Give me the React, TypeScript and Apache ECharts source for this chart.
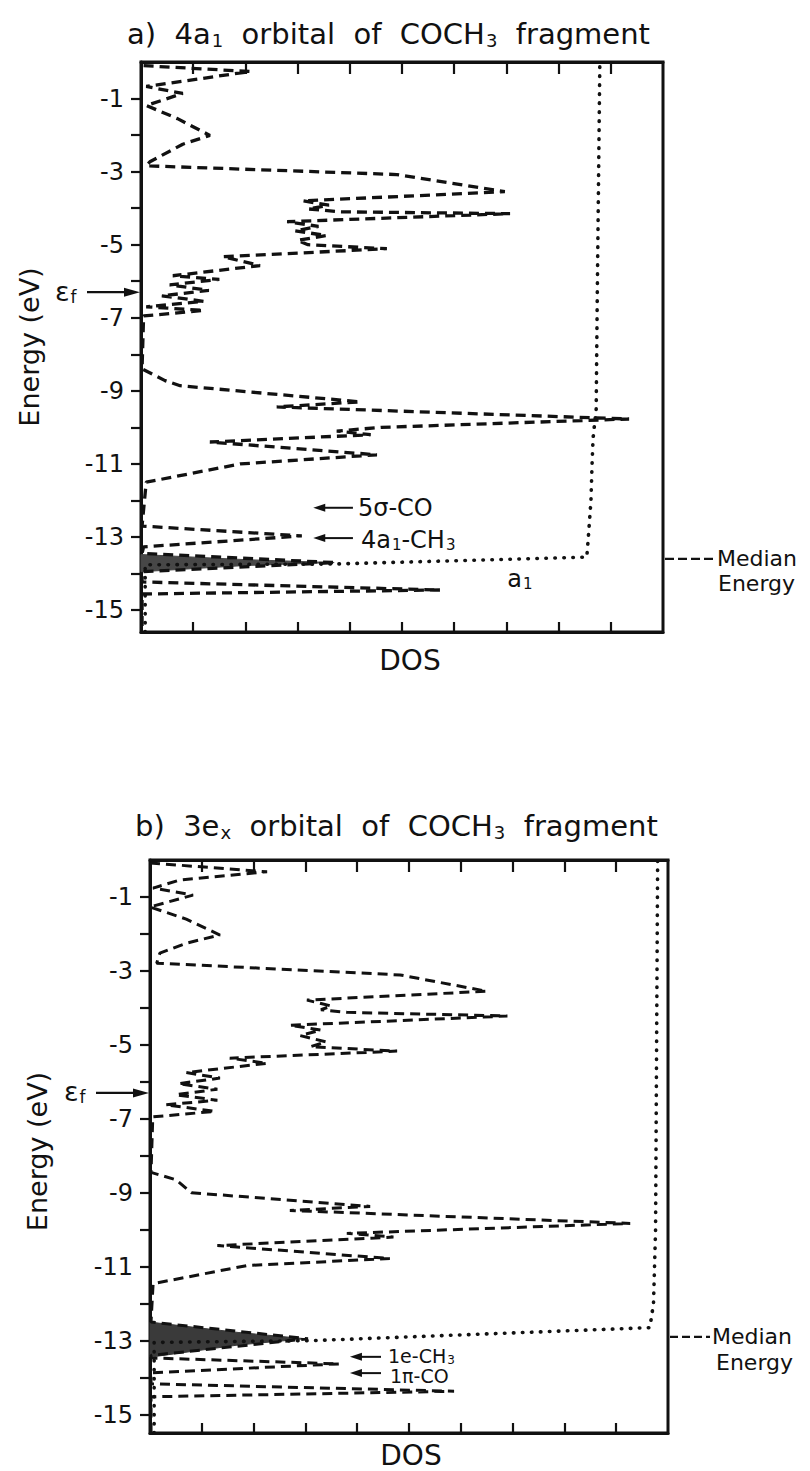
import React, { useEffect, useRef } from "react";
import * as echarts from "echarts";

// ---------- data ----------
const energyTicks = [-1, -2, -3, -4, -5, -6, -7, -8, -9, -10, -11, -12, -13, -14, -15];
const energyLabels = [-1, -3, -5, -7, -9, -11, -13, -15];
const dosTicks = [1, 2, 3, 4, 5, 6, 7, 8, 9];
const fermiEnergy = -6.3;
const aMedianEnergy = -13.6;
const bMedianEnergy = -12.9;

// panel a: 4a1 projected DOS (dashed)
const aDos = [0.05, 2.09, 0.1, 0.8, 0.1, 0.7, 1.32, 0.8, 0.17, 0.1, 4.9, 6.97, 3.1, 3.6, 3.2, 3.8, 7.07, 2.8, 3.4, 2.95, 3.55, 3.0, 3.2, 4.71, 1.57, 2.28, 0.61, 1.5, 0.55, 1.3, 0.4, 1.2, 0.1, 1.2, 0.05, 0.02, 0.46, 0.75, 4.2, 2.6, 9.35, 4.6, 3.75, 4.4, 1.32, 4.52, 1.9, 0.1, 0.02, 3.08, 0.05, 0.02, 3.7, 0.02, 0.02, 5.73, 0.02, 0.02];
const aEnergy = [-0.1, -0.26, -0.67, -0.86, -1.19, -1.55, -2.01, -2.25, -2.73, -2.84, -3.08, -3.55, -3.8, -3.92, -4.02, -4.1, -4.15, -4.37, -4.5, -4.62, -4.75, -4.88, -5.0, -5.11, -5.33, -5.57, -5.85, -5.95, -6.1, -6.25, -6.4, -6.55, -6.7, -6.8, -6.95, -8.4, -8.72, -8.86, -9.3, -9.44, -9.77, -10.0, -10.1, -10.2, -10.4, -10.75, -11.0, -11.5, -12.7, -12.97, -13.27, -13.45, -13.7, -13.95, -14.23, -14.45, -14.56, -15.6];
// panel a: integrated DOS (dotted)
const aIntDos = [0.08, 0.08, 3.7, 8.54, 8.57, 8.62, 8.64, 8.66, 8.72, 8.74, 8.79];
const aIntEnergy = [-15.6, -13.76, -13.74, -13.55, -13.0, -12.0, -11.05, -10.3, -9.5, -6.5, 0];
// panel a: dense (shaded) peak
const aWedgeDos = [0, 2.0, 3.7, 2.0, 0];
const aWedgeEnergy = [-13.48, -13.62, -13.7, -13.78, -13.95];

// panel b: 3ex projected DOS (dashed)
const bDos = [0.0, 2.26, 0.58, 0.06, 0.83, 0.0, 0.7, 1.35, 0.7, 0.19, 0.13, 4.83, 6.5, 3.03, 3.5, 3.3, 3.8, 6.9, 2.7, 3.3, 2.9, 3.4, 3.1, 4.77, 1.54, 2.26, 0.7, 1.35, 0.55, 1.3, 0.5, 1.3, 0.3, 1.25, 0.05, 0.05, 0.02, 0.5, 0.8, 4.25, 2.7, 9.27, 3.8, 4.7, 1.3, 4.63, 1.87, 0.06, 0.02, 3.05, 0.02, 0.02, 3.65, 0.02, 0.02, 5.87, 0.02, 0.02];
const bEnergy = [-0.08, -0.32, -0.54, -0.76, -0.95, -1.27, -1.6, -2.03, -2.25, -2.52, -2.79, -3.11, -3.55, -3.79, -3.95, -4.05, -4.12, -4.22, -4.47, -4.6, -4.75, -4.92, -5.05, -5.17, -5.36, -5.5, -5.75, -5.9, -6.05, -6.2, -6.35, -6.5, -6.62, -6.8, -6.95, -7.12, -8.45, -8.65, -9.0, -9.37, -9.48, -9.83, -10.1, -10.2, -10.43, -10.78, -10.97, -11.46, -12.5, -12.95, -13.4, -13.47, -13.63, -13.87, -14.17, -14.37, -14.52, -15.5];
const bIntDos = [0.08, 0.08, 3.15, 9.65, 9.72, 9.76, 9.8];
const bIntEnergy = [-15.5, -13.05, -13.0, -12.65, -12.0, -10.0, 0];
const bWedgeDos = [0, 1.7, 3.0, 1.7, 0];
const bWedgeEnergy = [-12.5, -12.78, -12.95, -13.12, -13.45];

// texts ({s|...} marks a subscript)
const aTitle = "a)  4a{s|1}  orbital  of  COCH{s|3}  fragment";
const bTitle = "b)  3e{s|x}  orbital  of  COCH{s|3}  fragment";

// ---------- style ----------
const INK = "#111111";
const LABEL_FONT = "'DejaVu Sans', 'Noto Sans', sans-serif";
const TITLE_FONT = "'DejaVu Sans', 'Noto Sans', sans-serif";

const gridA = { left: 141, top: 62, width: 522, height: 570 };
const gridB = { left: 150, top: 860, width: 518, height: 573 };

const zip = (xs: number[], ys: number[]) => xs.map((x, i) => [x, ys[i]]);

function xAxes(gridIndex: number) {
  const base = {
    type: "value" as const,
    gridIndex,
    min: 0,
    max: 10,
    axisLabel: { show: false },
    splitLine: { show: false },
    axisLine: { show: true, onZero: false, lineStyle: { color: INK, width: 3 } },
  };
  return [
    { ...base, position: "bottom", axisTick: { show: true, inside: true, length: 10, customValues: dosTicks, lineStyle: { color: INK, width: 2.2 } } },
    { ...base, position: "top", axisTick: { show: true, inside: true, length: 12, customValues: dosTicks, lineStyle: { color: INK, width: 2.2 } } },
  ];
}

function yAxis(gridIndex: number, min: number) {
  return {
    type: "value" as const,
    gridIndex,
    min,
    max: 0,
    splitLine: { show: false },
    axisLine: { show: true, onZero: false, lineStyle: { color: INK, width: 3 } },
    axisTick: { show: true, inside: false, length: 10, customValues: energyTicks, lineStyle: { color: INK, width: 2.2 } },
    axisLabel: { show: true, customValues: energyLabels, margin: 17, fontSize: 24, color: INK, fontFamily: LABEL_FONT },
  };
}

function wedgeSeries(xi: number, yi: number, dos: number[], en: number[], fill: string) {
  return {
    type: "custom",
    xAxisIndex: xi,
    yAxisIndex: yi,
    z: 1,
    data: [[dos[2], en[2]]],
    renderItem: (_p: any, api: any) => {
      const pts = dos.map((d, i) => api.coord([d, en[i]]));
      return { type: "polygon", shape: { points: pts }, style: { fill, stroke: fill, lineWidth: 1 } };
    },
  };
}

const dashed = { color: INK, width: 3.3, type: [10, 6] as number[] };
const dotted = { color: INK, width: 3.6, type: [0.5, 8.5] as number[], cap: "round" };

const option: any = {
  animation: false,
  backgroundColor: "#ffffff",
  grid: [
    { ...gridA, show: true, borderColor: INK, borderWidth: 3, backgroundColor: "transparent" },
    { ...gridB, show: true, borderColor: INK, borderWidth: 3, backgroundColor: "transparent" },
  ],
  xAxis: [...xAxes(0), ...xAxes(1)],
  yAxis: [yAxis(0, -15.6), yAxis(1, -15.5)],
  series: [
    { type: "line", xAxisIndex: 0, yAxisIndex: 0, data: zip(aDos, aEnergy), showSymbol: false, symbol: "none", lineStyle: dashed, z: 3 },
    { type: "line", xAxisIndex: 0, yAxisIndex: 0, data: zip(aIntDos, aIntEnergy), showSymbol: false, symbol: "none", lineStyle: dotted, z: 2 },
    wedgeSeries(0, 0, aWedgeDos, aWedgeEnergy, "#474747"),
    { type: "line", xAxisIndex: 2, yAxisIndex: 1, data: zip(bDos, bEnergy), showSymbol: false, symbol: "none", lineStyle: { ...dashed, width: 3 }, z: 3 },
    { type: "line", xAxisIndex: 2, yAxisIndex: 1, data: zip(bIntDos, bIntEnergy), showSymbol: false, symbol: "none", lineStyle: dotted, z: 2 },
    wedgeSeries(2, 1, bWedgeDos, bWedgeEnergy, "#3a3a3a"),
  ],
};

function leftArrow(x1: number, x2: number, y: number) {
  return [
    { type: "line", shape: { x1: x1 + 8, y1: y, x2, y2: y }, style: { stroke: INK, lineWidth: 2 } },
    { type: "polygon", shape: { points: [[x1, y], [x1 + 12, y - 4], [x1 + 12, y + 4]] }, style: { fill: INK } },
  ];
}

// rich text with subscripts
function richTxt(x: number, y: number, text: string, size: number, align = "left", rotation = 0) {
  const sub = Math.round(size * 0.62);
  return {
    type: "text",
    x,
    y,
    rotation,
    style: {
      text,
      fontSize: size,
      fontFamily: TITLE_FONT,
      fill: INK,
      align,
      verticalAlign: "middle",
      rich: {
        s: { fontSize: sub, fontFamily: TITLE_FONT, fill: INK, verticalAlign: "bottom", lineHeight: Math.round(size * 1.05), padding: [Math.round(size * 0.45), 0, 0, 1] },
      },
    },
  };
}

function fermiMarker(axisX: number, y: number) {
  return [
    { type: "line", shape: { x1: axisX - 54, y1: y, x2: axisX - 10, y2: y }, style: { stroke: INK, lineWidth: 2.2 } },
    { type: "polygon", shape: { points: [[axisX - 1, y], [axisX - 17, y - 4.5], [axisX - 17, y + 4.5]] }, style: { fill: INK } },
    richTxt(axisX - 86, y - 1, "ε{s|f}", 27),
  ];
}

export default function App() {
  const ref = useRef<HTMLDivElement>(null);
  useEffect(() => {
    const el = ref.current;
    if (!el) return;
    const chart = echarts.init(el, null, { renderer: "svg" });
    chart.setOption(option);

    const pa = (x: number, y: number) => chart.convertToPixel({ seriesIndex: 0 }, [x, y]) as number[];
    const pb = (x: number, y: number) => chart.convertToPixel({ seriesIndex: 3 }, [x, y]) as number[];

    const [aL, aT] = pa(0, 0);
    const [aR, aB] = pa(10, -15.6);
    const [bL, bT] = pb(0, 0);
    const [bR, bB] = pb(10, -15.5);

    const txt = (x: number, y: number, text: string, size: number, align = "left", rotation = 0) => ({
      type: "text",
      x,
      y,
      rotation,
      style: { text, fontSize: size, fontFamily: LABEL_FONT, fill: INK, align, verticalAlign: "middle" },
    });

    const g: any[] = [];
    // titles
    g.push(richTxt(aL - 14, aT - 28, aTitle, 29));
    g.push(richTxt(bL - 15, bT - 34, bTitle, 29));
    // axis names
    g.push(txt(aL - 112, (aT + aB) / 2, "Energy (eV)", 27, "center", Math.PI / 2));
    g.push(txt(bL - 113, (bT + bB) / 2 + 5, "Energy (eV)", 27, "center", Math.PI / 2));
    g.push(txt((aL + aR) / 2 + 8, aB + 28, "DOS", 28, "center"));
    g.push(txt((bL + bR) / 2 + 2, bB + 22, "DOS", 28, "center"));
    // fermi level markers
    g.push(...fermiMarker(aL, pa(0, fermiEnergy)[1]));
    g.push(...fermiMarker(bL, pb(0, fermiEnergy)[1]));
    // median energy
    const ya = pa(0, aMedianEnergy)[1];
    g.push({ type: "line", shape: { x1: aR + 2, y1: ya, x2: aR + 52, y2: ya }, style: { stroke: INK, lineWidth: 2.2, lineDash: [9, 4] } });
    g.push(txt(aR + 54, ya, "Median", 22));
    g.push(txt(aR + 55, ya + 25, "Energy", 22));
    const yb = pb(0, bMedianEnergy)[1];
    g.push({ type: "line", shape: { x1: bR + 2, y1: yb, x2: bR + 42, y2: yb }, style: { stroke: INK, lineWidth: 2.2, lineDash: [8, 4] } });
    g.push(txt(bR + 44, yb, "Median", 22));
    g.push(txt(bR + 48, yb + 26, "Energy", 22));
    // panel a annotations
    const a5 = pa(3.3, -12.2), a5e = pa(4.06, -12.2);
    g.push(...leftArrow(a5[0], a5e[0], a5[1]));
    g.push(txt(a5e[0] + 5, a5[1], "5σ-CO", 24));
    const a4 = pa(3.3, -13.03), a4e = pa(4.06, -13.03);
    g.push(...leftArrow(a4[0], a4e[0], a4[1]));
    g.push(richTxt(a4e[0] + 8, a4[1] + 2, "4a{s|1}-CH{s|3}", 24));
    const a1 = pa(7.26, -14.15);
    g.push(richTxt(a1[0], a1[1], "a{s|1}", 24, "center"));
    // panel b annotations
    const b1 = pb(3.86, -13.44), b1e = pb(4.46, -13.44);
    g.push(...leftArrow(b1[0], b1e[0], b1[1]));
    g.push(richTxt(b1e[0] + 7, b1[1] - 1, "1e-CH{s|3}", 19));
    const b2 = pb(3.86, -13.88), b2e = pb(4.46, -13.88);
    g.push(...leftArrow(b2[0], b2e[0], b2[1]));
    g.push(txt(b2e[0] + 9, b2[1] + 3, "1π-CO", 19));

    chart.setOption({ graphic: g });
    return () => chart.dispose();
  }, []);
  return <div ref={ref} style={{ position: "absolute", left: 0, top: 0, width: 810, height: 1471, background: "#fff" }} />;
}
